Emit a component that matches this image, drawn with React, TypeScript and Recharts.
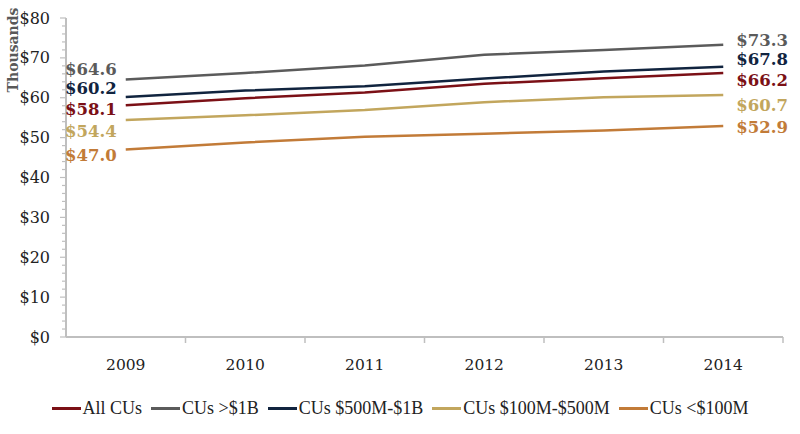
import React from "react";
import { LineChart, Line, XAxis, YAxis, Legend, LabelList } from "recharts";

const years = ["2009", "2010", "2011", "2012", "2013", "2014"];
const allCUs = [58.1, 59.9, 61.3, 63.5, 64.9, 66.2];
const cusOver1B = [64.6, 66.2, 68.1, 70.8, 72.0, 73.3];
const cus500M1B = [60.2, 61.8, 62.9, 64.8, 66.6, 67.8];
const cus100M500M = [54.4, 55.6, 56.9, 58.9, 60.1, 60.7];
const cusUnder100M = [47.0, 48.8, 50.2, 51.0, 51.8, 52.9];
const yTicks = Array.from({ length: 41 }, (_, i) => i * 2);

const W = 800;
const H = 434;
const M = { top: 18, right: 17, left: 0, bottom: 0 };
const Y_W = 66;
const PLOT_W = W - M.right - Y_W;
const BAND = PLOT_W / years.length;
const AXIS = "#bfbfbf";
const SERIF = "'DejaVu Serif', serif";

// series styles; dy = label nudge at first / last point
const series = [
  { key: "all", name: "All CUs", color: "#7b1016", dyL: 4, dyR: 7 },
  { key: "over1B", name: "CUs >$1B", color: "#5b5b5b", dyL: -10, dyR: -5 },
  { key: "m500", name: "CUs $500M-$1B", color: "#11243f", dyL: -9, dyR: -8 },
  { key: "m100", name: "CUs $100M-$500M", color: "#c2a65d", dyL: 11, dyR: 10 },
  { key: "under100", name: "CUs <$100M", color: "#c27b38", dyL: 5, dyR: 1 },
];

const values: Record<string, number[]> = {
  all: allCUs,
  over1B: cusOver1B,
  m500: cus500M1B,
  m100: cus100M500M,
  under100: cusUnder100M,
};

const data = years.map((year, i) => {
  const row: Record<string, string | number> = { year };
  series.forEach((s) => (row[s.key] = values[s.key][i]));
  return row;
});

function YTick(props: any) {
  const { x, y, payload } = props;
  const major = payload.value % 10 === 0;
  return (
    <g>
      <line x1={x - (major ? 6 : 4)} x2={x} y1={y} y2={y} stroke={AXIS} strokeWidth={1.2} />
      {major && (
        <text x={x - 16} y={y} dy={5.5} textAnchor="end" fontFamily={SERIF} fontSize={16} fill="#222">
          ${payload.value}
        </text>
      )}
    </g>
  );
}

function XTick(props: any) {
  const { x, y, payload } = props;
  const bx = x + BAND / 2;
  return (
    <g>
      <line x1={bx} x2={bx} y1={y} y2={y + 6} stroke={AXIS} strokeWidth={1.5} />
      <text x={x} y={y + 33} textAnchor="middle" fontFamily={SERIF} fontSize={15.5} fill="#222">
        {payload.value}
      </text>
    </g>
  );
}

function endLabel(color: string, dyL: number, dyR: number) {
  return (props: any) => {
    const { x, y, value, index } = props;
    const last = index === years.length - 1;
    if (index !== 0 && !last) return null;
    return (
      <text
        x={last ? x + 13 : x - 9}
        y={y + (last ? dyR : dyL)}
        dy={6}
        textAnchor={last ? "start" : "end"}
        fontFamily={SERIF}
        fontWeight="bold"
        fontSize={16.5}
        fill={color}
      >
        ${value.toFixed(1)}
      </text>
    );
  };
}

function LegendContent() {
  return (
    <div style={{ width: W, height: 52, display: "flex", justifyContent: "center", alignItems: "center", gap: 9, paddingTop: 2 }}>
      {series.map((s) => (
        <div key={s.key} style={{ display: "flex", alignItems: "center" }}>
          <span style={{ display: "inline-block", width: 29, height: 3, background: s.color, marginRight: 2 }} />
          <span style={{ fontFamily: "'Liberation Serif', serif", fontSize: 18, color: "#222" }}>{s.name}</span>
        </div>
      ))}
    </div>
  );
}

export default function App() {
  return (
    <div style={{ position: "absolute", left: 0, top: 0, width: W, height: H, background: "#fff" }}>
      <LineChart width={W} height={H} data={data} margin={M}>
        <XAxis
          dataKey="year"
          height={43}
          stroke={AXIS}
          strokeWidth={2}
          tickLine={false}
          tickSize={0}
          tickMargin={0}
          interval={0}
          padding={{ left: BAND / 2, right: BAND / 2 }}
          tick={<XTick />}
        />
        <YAxis
          width={Y_W}
          domain={[0, 80]}
          ticks={yTicks}
          interval={0}
          stroke={AXIS}
          strokeWidth={2}
          tickLine={false}
          tickSize={0}
          tickMargin={0}
          tick={<YTick />}
          label={{
            content: () => (
              <text
                transform="translate(18, 50) rotate(-90)"
                textAnchor="middle"
                fontFamily={SERIF}
                fontWeight="bold"
                fontSize={14}
                fill="#595959"
              >
                Thousands
              </text>
            ),
          }}
        />
        <Legend
          verticalAlign="bottom"
          wrapperStyle={{ left: 0, width: W }}
          content={<LegendContent />}
        />
        {series.map((s) => (
          <Line
            key={s.key}
            dataKey={s.key}
            name={s.name}
            stroke={s.color}
            strokeWidth={2.5}
            dot={false}
            activeDot={false}
            isAnimationActive={false}
          >
            <LabelList dataKey={s.key} content={endLabel(s.color, s.dyL, s.dyR)} />
          </Line>
        ))}
      </LineChart>
    </div>
  );
}
